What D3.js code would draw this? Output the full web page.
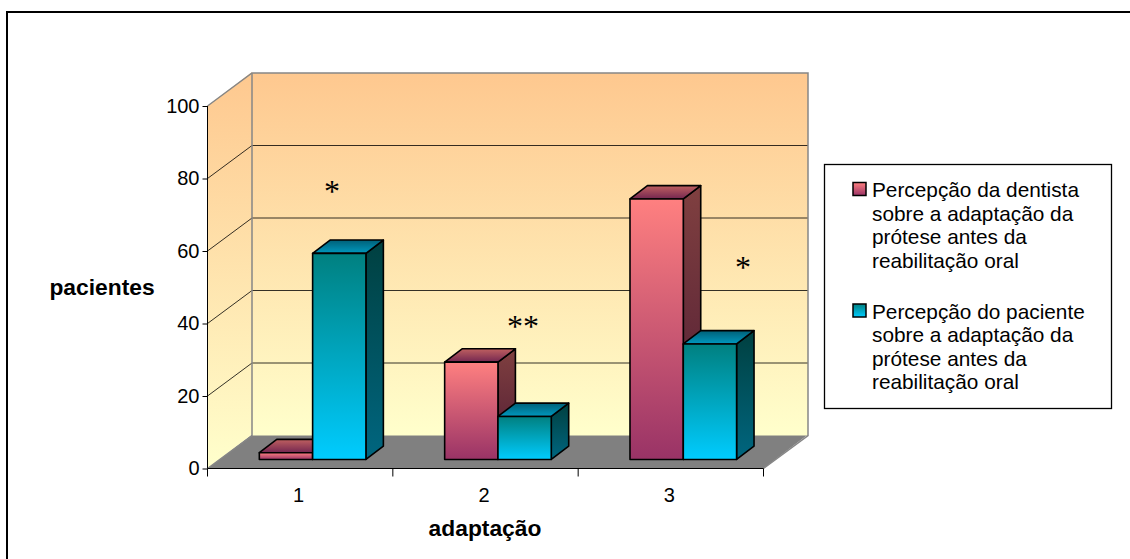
<!DOCTYPE html>
<html><head><meta charset="utf-8">
<script src="https://cdn.jsdelivr.net/npm/d3@7"></script>
<style>html,body{margin:0;padding:0;background:#fff}svg{display:block}text{font-family:"Liberation Sans",Arial,sans-serif;fill:#000}</style>
</head><body><svg id="c" width="1130" height="559"></svg>
<script>
const categories = ["1","2","3"];
const dentista = [2,27,72];
const paciente = [57,12,32];
const seriesNames = [
 ["Percepção da dentista","sobre a adaptação da","prótese antes da","reabilitação oral"],
 ["Percepção do paciente","sobre a adaptação da","prótese antes da","reabilitação oral"]];
const yTicks = [0,20,40,60,80,100];
const annotations = [["*",332,202],["**",523,337],["*",743,278]];

const svg = d3.select("#c");
const defs = svg.append("defs");
function grad(id,stops){
  const g=defs.append("linearGradient").attr("id",id).attr("x1",0).attr("y1",0).attr("x2",0).attr("y2",1);
  stops.forEach(s=>g.append("stop").attr("offset",s[0]).attr("stop-color",s[1]));
}
grad("wall",[[0,"#fec88f"],[1,"#ffffcc"]]);
grad("rf",[[0,"#ff8080"],[1,"#993366"]]);
grad("rt",[[0,"#bf6060"],[1,"#732650"]]);
grad("rs",[[0,"#804040"],[1,"#4d1a33"]]);
grad("bf",[[0,"#008080"],[1,"#00ccff"]]);
grad("bt",[[0,"#006078"],[1,"#0099bf"]]);
grad("bs",[[0,"#004040"],[1,"#006680"]]);

const x0=207.5,x1=763.5,y0=468.5,y100=106;
const dx=44.5,dy=-34;
const fd=0.28, bd=0.68;
const x=d3.scaleBand().domain(categories).range([x0,x1]);
const y=d3.scaleLinear().domain([0,100]).range([y0,y100]);

svg.append("polyline").attr("points","7,559 7,12 1130,12").attr("fill","none").attr("stroke","#000").attr("stroke-width",2);

const pts=a=>a.map(p=>p.join(",")).join(" ");
const sy=1;
svg.append("polygon").attr("points",pts([[x0,y0],[x1,y0],[x1+dx,y0+dy],[x0+dx,y0+dy]])).attr("fill","#808080");
svg.append("polygon").attr("points",pts([[x0,y0],[x0+dx,y0+dy],[x0+dx,y100+dy],[x0,y100]])).attr("fill","url(#wall)");
svg.append("rect").attr("x",x0+dx).attr("y",y100+dy+sy).attr("width",x1-x0).attr("height",y0-y100).attr("fill","url(#wall)");
yTicks.slice(1,-1).forEach(t=>{
  svg.append("polyline").attr("points",pts([[x0,y(t)],[x0+dx,y(t)+dy+sy],[x1+dx,y(t)+dy+sy]])).attr("fill","none").attr("stroke","#000").attr("stroke-width",0.8);
});
svg.append("polyline").attr("points",pts([[x0,y100],[x0+dx,y100+dy+sy],[x1+dx,y100+dy+sy],[x1+dx,y0+dy+sy],[x1,y0]])).attr("fill","none").attr("stroke","#868686").attr("stroke-width",1.5);
svg.append("polyline").attr("points",pts([[x0,y0],[x0+dx,y0+dy+sy],[x0+dx,y100+dy+sy]])).attr("fill","none").attr("stroke","#868686").attr("stroke-width",1.5);

const gy=svg.append("g").attr("transform",`translate(${x0},0)`).call(d3.axisLeft(y).tickValues(yTicks).tickSize(5).tickPadding(3));
const gx=svg.append("g").attr("transform",`translate(0,${y0})`).call(d3.axisBottom(x).tickSize(0).tickPadding(19));
gx.selectAll(".tick line").remove();
[0,1,2,3].forEach(i=>svg.append("line").attr("x1",x0+i*x.bandwidth()).attr("x2",x0+i*x.bandwidth()).attr("y1",y0).attr("y2",y0+8).attr("stroke","#000"));
gy.select(".domain").attr("d",`M0,${y(100)}V${y(0)}`).attr("stroke","#000");
gx.select(".domain").attr("d",`M${x0},0H${x1}`).attr("stroke","#000");
svg.selectAll(".tick text").style("font-family",'"Liberation Sans",Arial,sans-serif').style("font-size","20px").attr("fill","#000");
gx.selectAll(".tick text").attr("dx",-1.5);

const barW=53.3;
const fx=dx*fd, fy=dy*fd, ddx=dx*(bd-fd)*.98, ddy=dy*(bd-fd)*.98;
function bar(cat,i,v,c){
  const cx=x(cat)+x.bandwidth()/2+fx;
  const l=cx+(i-1)*barW, r=l+barW;
  const b=y(0)+fy+0.5, t=y(v)+fy+1;
  const g=svg.append("g").attr("stroke","#000").attr("stroke-width",1.6).attr("stroke-linejoin","round");
  g.append("polygon").attr("points",pts([[r,b],[r+ddx,b+ddy],[r+ddx,t+ddy],[r,t]])).attr("fill",`url(#${c}s)`);
  g.append("polygon").attr("points",pts([[l,t],[r,t],[r+ddx,t+ddy],[l+ddx,t+ddy]])).attr("fill",`url(#${c}t)`);
  g.append("rect").attr("x",l).attr("y",t).attr("width",barW).attr("height",b-t).attr("fill",`url(#${c}f)`);
}
categories.forEach((c,i)=>{bar(c,0,dentista[i],"r");bar(c,1,paciente[i],"b");});

annotations.forEach(a=>svg.append("text").attr("x",a[1]).attr("y",a[2]).attr("text-anchor","middle").style("font-family",'"Liberation Serif",serif').style("font-size","32px").text(a[0]));

svg.append("text").attr("x",102).attr("y",295).attr("text-anchor","middle").style("font-size","22.8px").style("font-weight","bold").text("pacientes");
svg.append("text").attr("x",485).attr("y",536).attr("text-anchor","middle").style("font-size","22.8px").style("font-weight","bold").text("adaptação");

svg.append("rect").attr("x",824.5).attr("y",164.5).attr("width",287).attr("height",244).attr("fill","#fff").attr("stroke","#000").attr("stroke-width",1.3);
seriesNames.forEach((ls,i)=>{
  const top=190.5+i*121.5;
  svg.append("rect").attr("x",853).attr("y",top-8).attr("width",13).attr("height",13).attr("fill",i?"url(#bf)":"url(#rf)").attr("stroke","#000").attr("stroke-width",1.5);
  ls.forEach((s,j)=>svg.append("text").attr("x",872).attr("y",top+6.5+j*23.6).style("font-size","20.8px").text(s));
});
</script></body></html>
